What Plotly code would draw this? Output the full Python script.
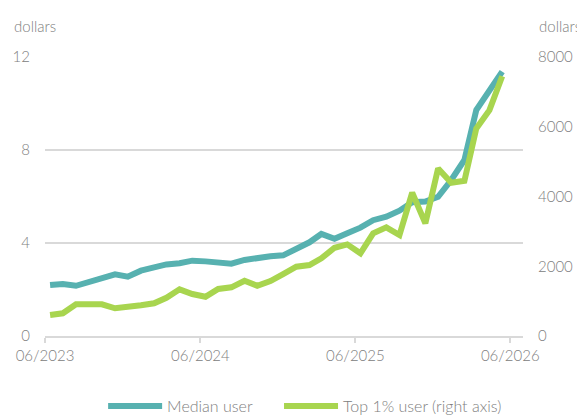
import pandas as pd
import plotly.graph_objects as go

# Monthly observations, 06/2023 .. 05/2026
months = pd.date_range("2023-06-01", periods=36, freq="MS") + pd.Timedelta(days=12)

median_user = [2.19, 2.24, 2.16, 2.32, 2.49, 2.65, 2.55, 2.81, 2.95, 3.08,
               3.13, 3.24, 3.21, 3.14, 3.11, 3.27, 3.37, 3.43, 3.47, 3.77,
               4.03, 4.39, 4.18, 4.42, 4.66, 4.98, 5.13, 5.39, 5.75, 5.78,
               5.99, 6.71, 7.57, 9.72, 10.51, 11.37]

top1_user = [602, 650, 908, 908, 908, 794, 822, 880, 937, 1097,
             1338, 1203, 1126, 1347, 1395, 1585, 1441, 1576, 1776, 1986,
             2034, 2226, 2530, 2627, 2370, 2943, 3115, 2894, 4110, 3229,
             4805, 4393, 4450, 5951, 6476, 7450]

x_tickvals = ["2023-06-01", "2024-06-01", "2025-06-01", "2026-06-01"]
left_ticks = [0, 4, 8, 12]
right_ticks = [0, 2000, 4000, 6000, 8000]

TEAL = "#57b1b0"
GREEN = "#a8d54f"
GRID = "#d9d9d9"
TXT = "#808080"
FONT = "Lato"

fig = go.Figure()
fig.add_trace(go.Scatter(x=months, y=median_user, name="Median user", mode="lines",
                         line=dict(color=TEAL, width=6), yaxis="y", legend="legend"))
fig.add_trace(go.Scatter(x=months, y=top1_user, name="Top 1% user (right axis)", mode="lines",
                         line=dict(color=GREEN, width=6), yaxis="y2", legend="legend2"))

leg_common = dict(orientation="h", xanchor="left", y=-0.251, yanchor="middle",
                  itemwidth=54, font=dict(size=16, color=TXT), bgcolor="rgba(0,0,0,0)")

fig.update_layout(
    width=577, height=409,
    margin=dict(l=37, r=62, t=49, b=81, autoexpand=False),
    plot_bgcolor="white", paper_bgcolor="white",
    font=dict(family=FONT, size=15, color=TXT, weight=300),
    showlegend=True,
    legend=dict(x=0.1216, **leg_common),
    legend2=dict(x=0.4896, **leg_common),
    xaxis=dict(type="date", range=["2023-06-01", "2026-07-01"],
               tickvals=x_tickvals, tickformat="%m/%Y", automargin=False,
               showgrid=False, showline=True, linecolor=GRID, linewidth=1.5,
               ticks="outside", ticklen=5, tickcolor=GRID, tickwidth=1.5,
               zeroline=False),
    yaxis=dict(range=[0, 12], tickvals=left_ticks, showgrid=True, gridcolor=GRID, gridwidth=1.5,
               zeroline=False, showline=False, ticklabelstandoff=14, automargin=False),
    yaxis2=dict(range=[0, 8000], tickvals=right_ticks, overlaying="y", side="right",
                showgrid=False, zeroline=False, showline=False, ticklabelstandoff=14,
                automargin=False),
    annotations=[
        dict(text="dollars", xref="paper", yref="paper", x=-0.069, y=1.111,
             xanchor="left", yanchor="middle", showarrow=False, font=dict(size=15, color=TXT)),
        dict(text="dollars", xref="paper", yref="paper", x=1.1255, y=1.111,
             xanchor="right", yanchor="middle", showarrow=False, font=dict(size=15, color=TXT)),
    ],
)

fig.write_html("out.html")
